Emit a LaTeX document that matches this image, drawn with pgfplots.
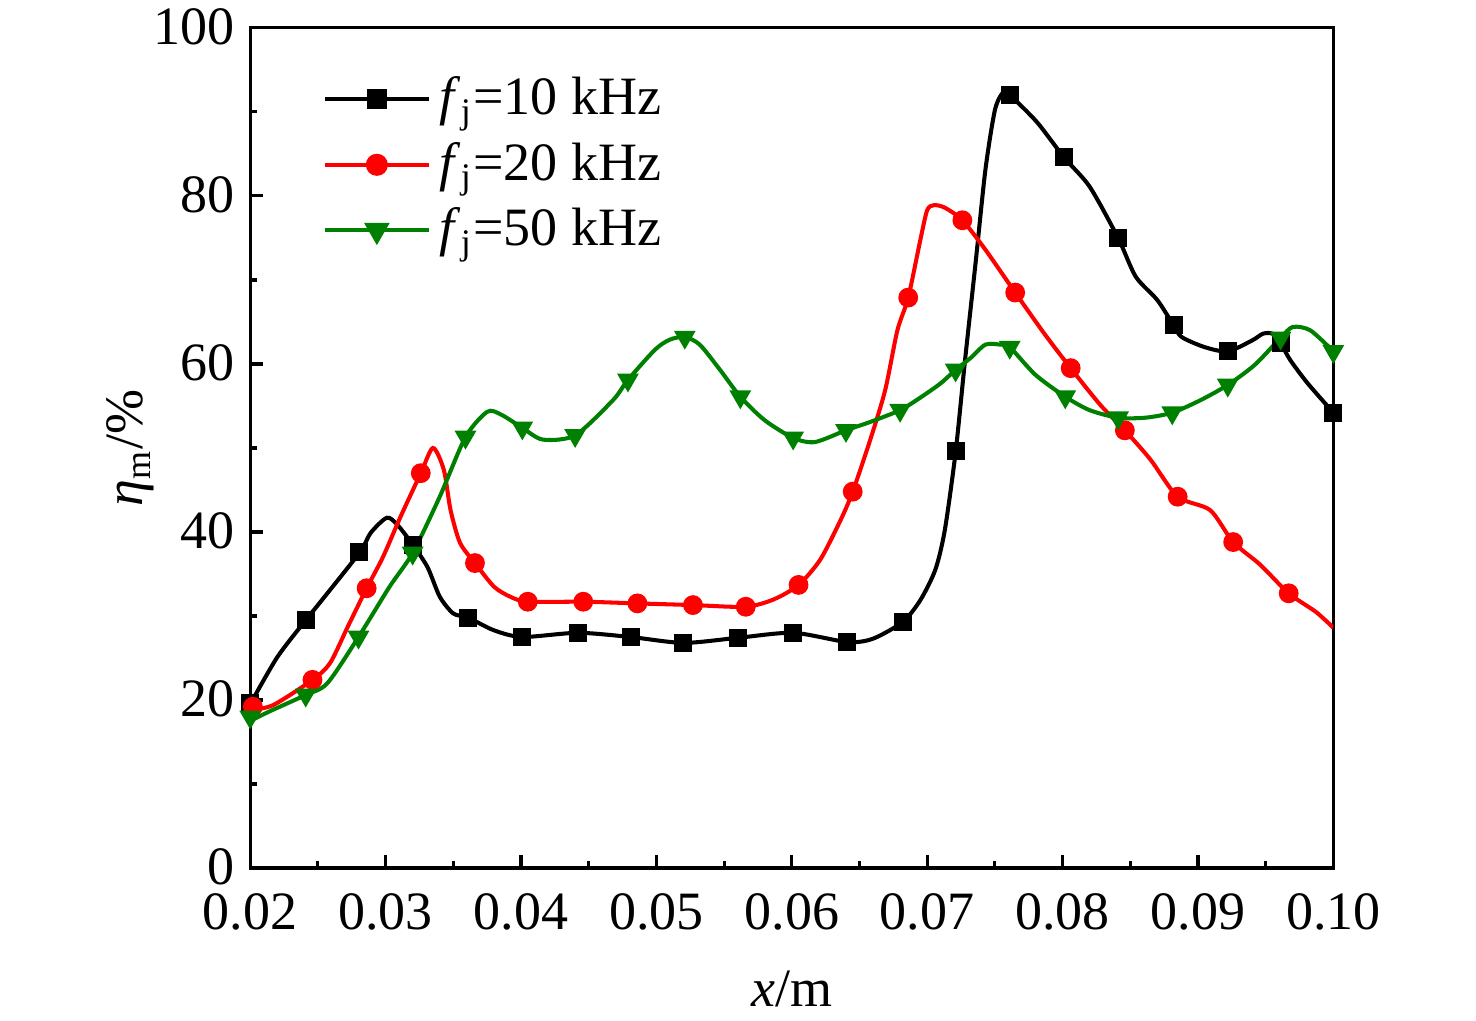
\documentclass[border=0pt]{standalone}
\usepackage{fontspec}
\setmainfont{Liberation Serif}
\usepackage{pgfplots}
\pgfplotsset{compat=1.18}
\definecolor{cgreen}{RGB}{0,128,0}
\begin{document}
\begin{tikzpicture}
\begin{axis}[
  scale only axis,
  width=240.7pt, height=186.7pt,
  xmin=0.02, xmax=0.10, ymin=0, ymax=100,
  xtick={0.02,0.03,...,0.10}, minor x tick num=1,
  ytick={0,20,...,100}, minor y tick num=1,
  xticklabels={0.02,0.03,0.04,0.05,0.06,0.07,0.08,0.09,0.10},
  tick align=inside,
  xtick pos=bottom, ytick pos=left,
  major tick length=2.9pt,
  minor tick length=1.5pt,
  axis line style={line width=0.7pt},
  every tick/.style={line width=0.7pt, black},
  /pgf/number format/assume math mode=true,
  tick label style={font=\fontsize{12}{14.4}\selectfont},
  xticklabel style={yshift=-2.2pt},
  yticklabel style={yshift=0.3pt, inner ysep=0pt},
  label style={font=\fontsize{12}{14.4}\selectfont},
  xlabel={\textit{x}/m},
  ylabel={\textit{η}\textsubscript{m}/\%},
  xlabel style={yshift=-2pt},
  ylabel style={yshift=-7pt},
  legend cell align=left,
  legend style={at={(16pt,178pt)}, anchor=north west, draw=none, fill=none,
    font=\fontsize{12}{14.4}\selectfont, row sep=0.6pt, inner sep=0pt},
  legend image code/.code={\draw[mark repeat=2,mark phase=2] plot coordinates {(0pt,0pt) (11.5pt,0pt) (23pt,0pt)};},
]
\addlegendimage{black, line width=0.9pt, mark=square*, mark size=1.8pt}
\addlegendentry{\textit{f}\textsubscript{j}=10 kHz}
\addlegendimage{red, line width=0.9pt, mark=*, mark size=2pt}
\addlegendentry{\textit{f}\textsubscript{j}=20 kHz}
\addlegendimage{cgreen, line width=0.9pt, mark=triangle*, mark options={rotate=180}, mark size=2.4pt}
\addlegendentry{\textit{f}\textsubscript{j}=50 kHz}

% black line
\addplot[black, line width=0.9pt, smooth, tension=0.45, forget plot] coordinates {
(0.0200,19.5) (0.0220,25.1) (0.0241,29.5) (0.0253,31.9) (0.0281,37.6) (0.0289,39.9)
(0.0301,41.7) (0.0309,40.8) (0.0320,38.5) (0.0331,35.8) (0.0340,32.3) (0.0350,30.3)
(0.0361,29.8) (0.0380,28.3) (0.0401,27.5) (0.0442,28.0) (0.0481,27.5) (0.0520,26.8)
(0.0560,27.4) (0.0601,28.0) (0.0641,26.9) (0.0660,27.3) (0.0682,29.3) (0.0695,31.9)
(0.0706,35.5) (0.0713,40.2) (0.0721,49.5) (0.0728,60.5) (0.0736,72.4) (0.0743,83.1)
(0.0750,90.2) (0.0756,92.3) (0.0761,92.0) (0.0781,88.8) (0.0801,84.6) (0.0820,81.1)
(0.0841,75.0) (0.0854,70.4) (0.0870,67.6) (0.0882,64.6) (0.0888,63.2) (0.0905,62.0)
(0.0922,61.5) (0.0940,62.8) (0.0948,63.6) (0.0955,63.6) (0.0961,62.5) (0.0968,60.5)
(0.0981,57.7) (0.1000,54.2)};
\addplot[black, only marks, mark=square*, mark size=1.8pt, forget plot] coordinates {
(0.0200,19.6) (0.0241,29.5) (0.0280,37.6) (0.0320,38.5) (0.0361,29.8) (0.0401,27.5)
(0.0442,28.0) (0.0481,27.5) (0.0520,26.8) (0.0560,27.4) (0.0601,28.0) (0.0641,26.9)
(0.0682,29.3) (0.0721,49.6) (0.0761,92.0) (0.0801,84.6) (0.0841,75.0) (0.0882,64.6)
(0.0922,61.5) (0.0961,62.5) (0.1000,54.2)};

% red line
\addplot[red, line width=0.9pt, smooth, tension=0.45, forget plot] coordinates {
(0.0200,18.8) (0.0217,19.4) (0.0246,22.4) (0.0259,24.4) (0.0272,28.7) (0.0286,33.3)
(0.0298,37.0) (0.0311,41.8) (0.0326,47.0) (0.0335,50.0) (0.0343,47.4) (0.0348,42.6)
(0.0355,38.7) (0.0366,36.3) (0.0380,33.5) (0.0392,32.3) (0.0405,31.7) (0.0446,31.7)
(0.0486,31.5) (0.0527,31.3) (0.0566,31.1) (0.0587,32.0) (0.0605,33.7) (0.0621,36.7)
(0.0636,41.4) (0.0645,44.8) (0.0658,51.0) (0.0669,56.9) (0.0678,64.0) (0.0686,67.9)
(0.0695,74.8) (0.0700,78.3) (0.0705,78.9) (0.0713,78.6) (0.0726,77.1) (0.0743,73.6)
(0.0765,68.5) (0.0787,63.5) (0.0806,59.5) (0.0828,55.1) (0.0846,52.1) (0.0865,48.6)
(0.0885,44.2) (0.0909,42.6) (0.0926,38.8) (0.0946,36.1) (0.0967,32.7) (0.0987,30.5)
(0.1000,28.6)};
\addplot[red, only marks, mark=*, mark size=2pt, forget plot] coordinates {
(0.0202,19.2) (0.0246,22.4) (0.0286,33.3) (0.0326,47.0) (0.0366,36.3) (0.0405,31.7)
(0.0446,31.7) (0.0486,31.5) (0.0527,31.3) (0.0566,31.1) (0.0605,33.7) (0.0645,44.8)
(0.0686,67.9) (0.0726,77.1) (0.0765,68.5) (0.0806,59.5) (0.0846,52.1) (0.0885,44.2)
(0.0926,38.8) (0.0967,32.7) (0.1005,28.3)};

% green line
\addplot[cgreen, line width=0.9pt, smooth, tension=0.45, forget plot] coordinates {
(0.0200,17.5) (0.0215,18.7) (0.0241,20.6) (0.0257,22.0) (0.0280,27.5) (0.0303,33.5)
(0.0320,37.5) (0.0340,44.2) (0.0359,51.3) (0.0375,54.3) (0.0385,54.0) (0.0401,52.4)
(0.0416,51.0) (0.0440,51.5) (0.0468,55.7) (0.0479,58.1) (0.0499,61.7) (0.0510,62.9)
(0.0521,63.2) (0.0532,62.3) (0.0547,59.3) (0.0562,56.1) (0.0580,53.3) (0.0601,51.2)
(0.0617,50.7) (0.0640,52.1) (0.0658,53.1) (0.0680,54.5) (0.0695,56.0) (0.0710,57.7)
(0.0721,59.3) (0.0732,60.7) (0.0743,62.3) (0.0754,62.3) (0.0761,62.0) (0.0780,58.7)
(0.0802,56.1) (0.0820,54.5) (0.0841,53.6) (0.0861,53.6) (0.0881,54.2) (0.0902,55.7)
(0.0922,57.5) (0.0942,59.9) (0.0961,63.1) (0.0970,64.4) (0.0983,64.0) (0.1000,61.5)};
\addplot[cgreen, only marks, mark=triangle*, mark options={rotate=180}, mark size=2.4pt, forget plot] coordinates {
(0.0200,18.0) (0.0241,20.6) (0.0280,27.5) (0.0320,37.5) (0.0359,51.3) (0.0401,52.4)
(0.0440,51.5) (0.0479,58.1) (0.0521,63.2) (0.0562,56.1) (0.0601,51.2) (0.0640,52.1)
(0.0680,54.5) (0.0721,59.3) (0.0761,62.0) (0.0802,56.1) (0.0841,53.6) (0.0881,54.2)
(0.0922,57.5) (0.0961,63.1) (0.1000,61.5)};
\end{axis}
\pgfresetboundingbox
\path (-55.6pt,-33.8pt) rectangle (272.4pt,192.9pt);
\end{tikzpicture}
\end{document}
